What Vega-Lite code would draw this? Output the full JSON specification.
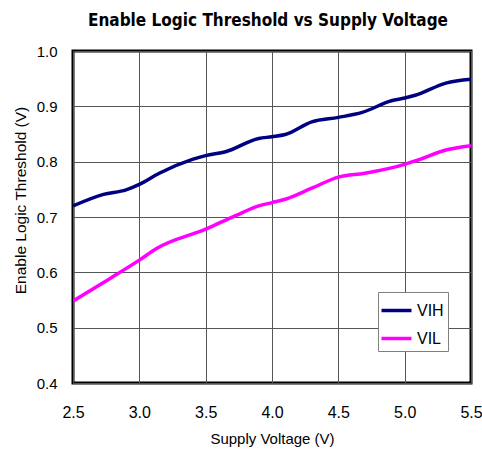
{
  "$schema": "https://vega.github.io/schema/vega-lite/v6.json",
  "width": 398,
  "height": 332,
  "autosize": {"type": "none"},
  "padding": {"left": 73, "top": 51, "right": 11, "bottom": 71},
  "background": "white",
  "title": {
    "text": "Enable Logic Threshold vs Supply Voltage",
    "font": "DejaVu Sans Condensed, Liberation Sans",
    "fontSize": 17,
    "fontWeight": "bold",
    "color": "black",
    "offset": 14,
    "dx": -4
  },
  "config": {
    "view": {"stroke": "black", "strokeWidth": 3},
    "axis": {
      "domain": false,
      "ticks": false,
      "grid": true,
      "gridColor": "#555555",
      "gridWidth": 1,
      "gridOpacity": 1,
      "labelFont": "Liberation Sans",
      "labelColor": "black",
      "labelFlush": false,
      "titleFont": "Liberation Sans",
      "titleColor": "black",
      "titleFontWeight": "normal"
    }
  },
  "data": {
    "values": [
      {"v": 2.5, "t": 0.720, "s": "VIH"},
      {"v": 2.73, "t": 0.741, "s": "VIH"},
      {"v": 2.9, "t": 0.749, "s": "VIH"},
      {"v": 3.0, "t": 0.759, "s": "VIH"},
      {"v": 3.15, "t": 0.779, "s": "VIH"},
      {"v": 3.4, "t": 0.804, "s": "VIH"},
      {"v": 3.5, "t": 0.811, "s": "VIH"},
      {"v": 3.65, "t": 0.818, "s": "VIH"},
      {"v": 3.9, "t": 0.842, "s": "VIH"},
      {"v": 4.0, "t": 0.845, "s": "VIH"},
      {"v": 4.1, "t": 0.849, "s": "VIH"},
      {"v": 4.3, "t": 0.872, "s": "VIH"},
      {"v": 4.5, "t": 0.880, "s": "VIH"},
      {"v": 4.68, "t": 0.889, "s": "VIH"},
      {"v": 4.9, "t": 0.910, "s": "VIH"},
      {"v": 5.0, "t": 0.915, "s": "VIH"},
      {"v": 5.08, "t": 0.920, "s": "VIH"},
      {"v": 5.31, "t": 0.942, "s": "VIH"},
      {"v": 5.5, "t": 0.949, "s": "VIH"},
      {"v": 2.5, "t": 0.548, "s": "VIL"},
      {"v": 2.78, "t": 0.589, "s": "VIL"},
      {"v": 3.0, "t": 0.622, "s": "VIL"},
      {"v": 3.13, "t": 0.643, "s": "VIL"},
      {"v": 3.5, "t": 0.678, "s": "VIL"},
      {"v": 3.73, "t": 0.703, "s": "VIL"},
      {"v": 3.9, "t": 0.720, "s": "VIL"},
      {"v": 4.0, "t": 0.726, "s": "VIL"},
      {"v": 4.1, "t": 0.732, "s": "VIL"},
      {"v": 4.3, "t": 0.752, "s": "VIL"},
      {"v": 4.5, "t": 0.772, "s": "VIL"},
      {"v": 4.7, "t": 0.779, "s": "VIL"},
      {"v": 5.0, "t": 0.795, "s": "VIL"},
      {"v": 5.1, "t": 0.803, "s": "VIL"},
      {"v": 5.31, "t": 0.821, "s": "VIL"},
      {"v": 5.5, "t": 0.829, "s": "VIL"}
    ]
  },
  "mark": {"type": "line", "interpolate": "monotone", "strokeWidth": 3.5, "clip": true},
  "encoding": {
    "x": {
      "field": "v",
      "type": "quantitative",
      "scale": {"domain": [2.5, 5.5], "nice": false},
      "axis": {
        "values": [2.5, 3.0, 3.5, 4.0, 4.5, 5.0, 5.5],
        "format": ".1f",
        "labelFontSize": 16,
        "labelPadding": 21,
        "title": "Supply Voltage (V)",
        "titleFontSize": 15,
        "titlePadding": 11
      }
    },
    "y": {
      "field": "t",
      "type": "quantitative",
      "scale": {"domain": [0.4, 1.0], "nice": false, "zero": false},
      "axis": {
        "values": [0.4, 0.5, 0.6, 0.7, 0.8, 0.9, 1.0],
        "format": ".1f",
        "labelFontSize": 15,
        "labelPadding": 16,
        "title": "Enable Logic Threshold (V)",
        "titleFontSize": 15.5,
        "titlePadding": 8,
        "titleY": 149
      }
    },
    "color": {
      "field": "s",
      "type": "nominal",
      "scale": {"domain": ["VIH", "VIL"], "range": ["#000080", "#ff00ff"]},
      "legend": {
        "title": null,
        "orient": "none",
        "legendX": 305,
        "legendY": 241,
        "padding": 4,
        "fillColor": "white",
        "strokeColor": "#808080",
        "symbolType": "M-1.2,0H1.2",
        "symbolSize": 625,
        "symbolStrokeWidth": 3.5,
        "rowPadding": 5,
        "labelOffset": 6,
        "labelFont": "Liberation Sans",
        "labelFontSize": 16,
        "labelColor": "black"
      }
    }
  }
}
